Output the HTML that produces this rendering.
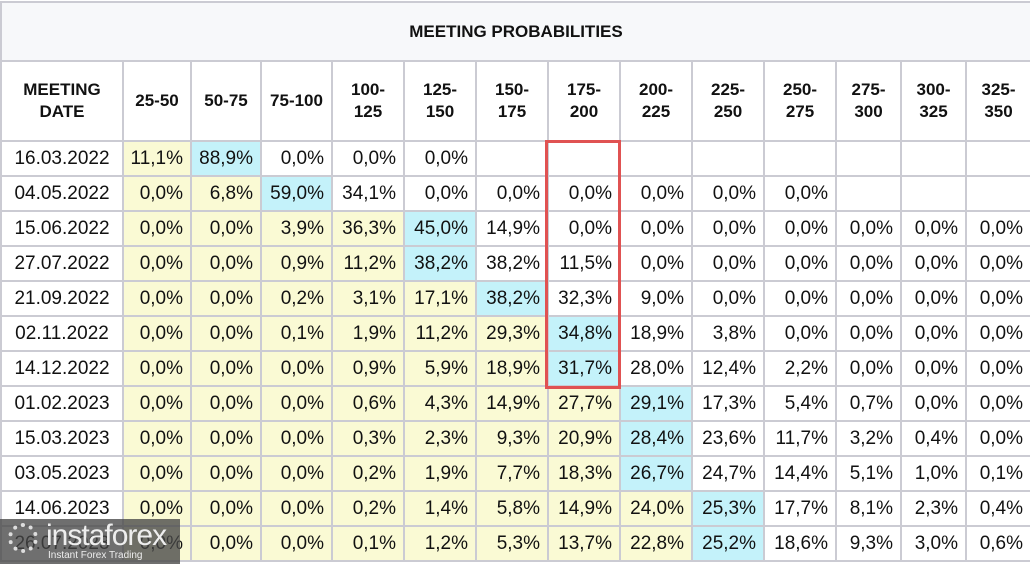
<!DOCTYPE html>
<html><head><meta charset="utf-8"><style>
body{margin:0;width:1030px;height:564px;overflow:hidden;background:#fff;font-family:"Liberation Sans",Arial,sans-serif;position:relative}
table{border-collapse:collapse;table-layout:fixed;position:absolute;left:0;top:1px;width:1030px}
td,th{border:2px solid #cbcbd3;padding:0 7px 0 0;font-size:19px;color:#111;text-align:right;overflow:hidden;white-space:nowrap}
tr{height:35px}
tr.h{height:80px}
tr.t{height:59px}
th{font-size:17px;font-weight:bold;text-align:center;padding:0;line-height:22px}
.t th{background:#f7f8fa}
td.d{text-align:center;padding:0}
.y{background:#fafad4}.b{background:#c4f2fa}
#box{position:absolute;left:545px;top:140px;width:70px;height:243px;border:3px solid #e05252}
#wm{position:absolute;left:0;top:519px;width:180px;height:45px;background:rgba(70,70,70,.78);color:#eee}
</style></head><body>
<table>
<colgroup><col style="width:122px"><col style="width:68px"><col style="width:70px"><col style="width:71px"><col style="width:72px"><col style="width:72px"><col style="width:72px"><col style="width:72px"><col style="width:72px"><col style="width:72px"><col style="width:72px"><col style="width:65px"><col style="width:65px"><col style="width:65px"></colgroup>
<tr class="t"><th colspan="14">MEETING PROBABILITIES</th></tr>
<tr class="h"><th>MEETING<br>DATE</th><th>25-50</th><th>50-75</th><th>75-100</th><th>100-<br>125</th><th>125-<br>150</th><th>150-<br>175</th><th>175-<br>200</th><th>200-<br>225</th><th>225-<br>250</th><th>250-<br>275</th><th>275-<br>300</th><th>300-<br>325</th><th>325-<br>350</th></tr>
<tr><td class="d">16.03.2022</td><td class="y">11,1%</td><td class="b">88,9%</td><td>0,0%</td><td>0,0%</td><td>0,0%</td><td></td><td></td><td></td><td></td><td></td><td></td><td></td><td></td></tr>
<tr><td class="d">04.05.2022</td><td class="y">0,0%</td><td class="y">6,8%</td><td class="b">59,0%</td><td>34,1%</td><td>0,0%</td><td>0,0%</td><td>0,0%</td><td>0,0%</td><td>0,0%</td><td>0,0%</td><td></td><td></td><td></td></tr>
<tr><td class="d">15.06.2022</td><td class="y">0,0%</td><td class="y">0,0%</td><td class="y">3,9%</td><td class="y">36,3%</td><td class="b">45,0%</td><td>14,9%</td><td>0,0%</td><td>0,0%</td><td>0,0%</td><td>0,0%</td><td>0,0%</td><td>0,0%</td><td>0,0%</td></tr>
<tr><td class="d">27.07.2022</td><td class="y">0,0%</td><td class="y">0,0%</td><td class="y">0,9%</td><td class="y">11,2%</td><td class="b">38,2%</td><td>38,2%</td><td>11,5%</td><td>0,0%</td><td>0,0%</td><td>0,0%</td><td>0,0%</td><td>0,0%</td><td>0,0%</td></tr>
<tr><td class="d">21.09.2022</td><td class="y">0,0%</td><td class="y">0,0%</td><td class="y">0,2%</td><td class="y">3,1%</td><td class="y">17,1%</td><td class="b">38,2%</td><td>32,3%</td><td>9,0%</td><td>0,0%</td><td>0,0%</td><td>0,0%</td><td>0,0%</td><td>0,0%</td></tr>
<tr><td class="d">02.11.2022</td><td class="y">0,0%</td><td class="y">0,0%</td><td class="y">0,1%</td><td class="y">1,9%</td><td class="y">11,2%</td><td class="y">29,3%</td><td class="b">34,8%</td><td>18,9%</td><td>3,8%</td><td>0,0%</td><td>0,0%</td><td>0,0%</td><td>0,0%</td></tr>
<tr><td class="d">14.12.2022</td><td class="y">0,0%</td><td class="y">0,0%</td><td class="y">0,0%</td><td class="y">0,9%</td><td class="y">5,9%</td><td class="y">18,9%</td><td class="b">31,7%</td><td>28,0%</td><td>12,4%</td><td>2,2%</td><td>0,0%</td><td>0,0%</td><td>0,0%</td></tr>
<tr><td class="d">01.02.2023</td><td class="y">0,0%</td><td class="y">0,0%</td><td class="y">0,0%</td><td class="y">0,6%</td><td class="y">4,3%</td><td class="y">14,9%</td><td class="y">27,7%</td><td class="b">29,1%</td><td>17,3%</td><td>5,4%</td><td>0,7%</td><td>0,0%</td><td>0,0%</td></tr>
<tr><td class="d">15.03.2023</td><td class="y">0,0%</td><td class="y">0,0%</td><td class="y">0,0%</td><td class="y">0,3%</td><td class="y">2,3%</td><td class="y">9,3%</td><td class="y">20,9%</td><td class="b">28,4%</td><td>23,6%</td><td>11,7%</td><td>3,2%</td><td>0,4%</td><td>0,0%</td></tr>
<tr><td class="d">03.05.2023</td><td class="y">0,0%</td><td class="y">0,0%</td><td class="y">0,0%</td><td class="y">0,2%</td><td class="y">1,9%</td><td class="y">7,7%</td><td class="y">18,3%</td><td class="b">26,7%</td><td>24,7%</td><td>14,4%</td><td>5,1%</td><td>1,0%</td><td>0,1%</td></tr>
<tr><td class="d">14.06.2023</td><td class="y">0,0%</td><td class="y">0,0%</td><td class="y">0,0%</td><td class="y">0,2%</td><td class="y">1,4%</td><td class="y">5,8%</td><td class="y">14,9%</td><td class="y">24,0%</td><td class="b">25,3%</td><td>17,7%</td><td>8,1%</td><td>2,3%</td><td>0,4%</td></tr>
<tr><td class="d">26.07.2023</td><td class="y">0,0%</td><td class="y">0,0%</td><td class="y">0,0%</td><td class="y">0,1%</td><td class="y">1,2%</td><td class="y">5,3%</td><td class="y">13,7%</td><td class="y">22,8%</td><td class="b">25,2%</td><td>18,6%</td><td>9,3%</td><td>3,0%</td><td>0,6%</td></tr>
</table>
<div id="box"></div>
<div id="wm"><div style="position:absolute;left:8px;top:4px;width:30px;height:30px;border-radius:50%;border:4px dotted #ddd;box-sizing:border-box"></div><div style="position:absolute;left:46px;top:0px;font-size:30px;letter-spacing:-1px">instaforex</div><div style="position:absolute;left:48px;top:31px;font-size:10px">Instant Forex Trading</div></div>
</body></html>
